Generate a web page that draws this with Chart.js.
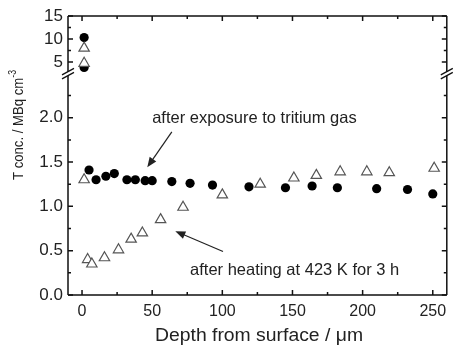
<!DOCTYPE html>
<html>
<head>
<meta charset="utf-8">
<script src="https://cdn.jsdelivr.net/npm/chart.js@4.4.1/dist/chart.umd.min.js"></script>
<style>
	html, body { margin: 0; padding: 0; background: #fff; }
	#wrap { width: 454px; height: 347px; }
</style>
</head>
<body>
<div id="wrap"><canvas id="chart"></canvas></div>
<script>
// values (depth in µm, concentration in MBq cm-3)
const circleDepth = [1.5, 1.5, 5, 10, 17, 23, 32, 38, 45, 50, 64, 77, 93, 119, 145, 164, 182, 210, 232, 250];
const circleConc = [10.3, 3.8, 1.41, 1.30, 1.34, 1.37, 1.30, 1.30, 1.29, 1.29, 1.28, 1.26, 1.24, 1.22, 1.21, 1.23, 1.21, 1.20, 1.19, 1.14];
const triangleDepth = [1.5, 1.5, 1.5, 4, 7, 16, 26, 35, 43, 56, 72, 100, 127, 151, 167, 184, 203, 219, 251];
const triangleConc = [8.0, 4.7, 1.30, 0.40, 0.35, 0.42, 0.51, 0.63, 0.70, 0.85, 0.99, 1.13, 1.25, 1.32, 1.35, 1.39, 1.39, 1.38, 1.43];

const depthTicks = [0, 50, 100, 150, 200, 250];
const lowTicks = [0, 0.5, 1.0, 1.5, 2.0];
const highTicks = [5, 10, 15];
const breakAt = 2.5;

const xTitle = 'Depth from surface / μm';
const yTitle = 'T conc. / MBq cm';
const yTitleSup = '-3';

const notes = [
	{ text: 'after exposure to tritium gas', at: [50, 1.99], from: [64, 1.84], to: [46.5, 1.44] },
	{ text: 'after heating at 423 K for 3 h', at: [77, 0.28], from: [100.5, 0.49], to: [66.5, 0.72] },
];

const split = (xs, ys, high) => xs
	.map((x, i) => ({ x, y: ys[i] }))
	.filter((p) => (high ? p.y > breakAt : p.y <= breakAt));

const FONT = '"Liberation Sans", Arial, sans-serif';
const INK = '#222';

const minorsOf = (majors, min, max) => {
	const step = majors[1] - majors[0];
	const out = [];
	for (let i = 0; i < majors.length - 1; i++) {
		out.push((majors[i] + majors[i + 1]) / 2);
	}
	const last = majors[majors.length - 1] + step / 2;
	if (last < max) out.push(last);
	const first = majors[0] - step / 2;
	if (first > min) out.unshift(first);
	return out;
};

// draws text squeezed or stretched along its run to a given length
const fitText = (ctx, text, x, y, len) => {
	const w = ctx.measureText(text).width;
	ctx.save();
	ctx.translate(x, y);
	ctx.scale(len / w, 1);
	ctx.fillText(text, 0, 0);
	ctx.restore();
};

const framePlugin = {
	id: 'frame',
	afterDatasetsDraw(chart) {
		const { ctx, chartArea: a, scales } = chart;
		const x = scales.x;
		const yLow = scales.y;
		const yHigh = scales.yTop;
		const yb = yLow.top;

		ctx.save();
		ctx.strokeStyle = '#111';
		ctx.lineWidth = 1.5;
		ctx.beginPath();
		ctx.moveTo(a.left, a.top);
		ctx.lineTo(a.right, a.top);
		ctx.moveTo(a.left, a.bottom);
		ctx.lineTo(a.right, a.bottom);
		ctx.moveTo(a.left, a.top);
		ctx.lineTo(a.left, a.bottom);
		ctx.moveTo(a.right, a.top);
		ctx.lineTo(a.right, a.bottom);
		ctx.stroke();

		// inward ticks
		const tick = (x1, y1, x2, y2) => {
			ctx.moveTo(x1, y1);
			ctx.lineTo(x2, y2);
		};
		ctx.beginPath();
		depthTicks.forEach((v) => {
			const px = x.getPixelForValue(v);
			tick(px, a.bottom, px, a.bottom - 5);
			tick(px, a.top, px, a.top + 5);
		});
		minorsOf(depthTicks, x.min, x.max).forEach((v) => {
			const px = x.getPixelForValue(v);
			tick(px, a.bottom, px, a.bottom - 3);
			tick(px, a.top, px, a.top + 3);
		});
		[[yLow, lowTicks], [yHigh, highTicks]].forEach(([s, majors]) => {
			majors.forEach((v) => {
				const py = s.getPixelForValue(v);
				tick(a.left, py, a.left + 5, py);
				tick(a.right, py, a.right - 5, py);
			});
			minorsOf(majors, s.min, s.max).forEach((v) => {
				const py = s.getPixelForValue(v);
				tick(a.left, py, a.left + 3, py);
				tick(a.right, py, a.right - 3, py);
			});
		});
		ctx.stroke();

		// axis break marks
		[a.left, a.right].forEach((bx) => {
			ctx.fillStyle = '#fff';
			ctx.beginPath();
			ctx.moveTo(bx - 6, yb + 1.5);
			ctx.lineTo(bx + 6, yb - 5);
			ctx.lineTo(bx + 6, yb - 1);
			ctx.lineTo(bx - 6, yb + 5.5);
			ctx.closePath();
			ctx.fill();
			ctx.lineWidth = 1.3;
			ctx.beginPath();
			ctx.moveTo(bx - 6, yb + 1.5);
			ctx.lineTo(bx + 6, yb - 5);
			ctx.moveTo(bx - 6, yb + 5.5);
			ctx.lineTo(bx + 6, yb - 1);
			ctx.stroke();
		});

		// annotations
		ctx.fillStyle = INK;
		ctx.strokeStyle = INK;
		ctx.font = `16.5px ${FONT}`;
		ctx.textBaseline = 'middle';
		ctx.textAlign = 'left';
		notes.forEach((n) => {
			ctx.fillText(n.text, x.getPixelForValue(n.at[0]), yLow.getPixelForValue(n.at[1]));
			const x1 = x.getPixelForValue(n.from[0]);
			const y1 = yLow.getPixelForValue(n.from[1]);
			const x2 = x.getPixelForValue(n.to[0]);
			const y2 = yLow.getPixelForValue(n.to[1]);
			const ang = Math.atan2(y2 - y1, x2 - x1);
			ctx.lineWidth = 1.2;
			ctx.beginPath();
			ctx.moveTo(x1, y1);
			ctx.lineTo(x2 - Math.cos(ang) * 6, y2 - Math.sin(ang) * 6);
			ctx.stroke();
			ctx.beginPath();
			ctx.moveTo(x2, y2);
			ctx.lineTo(x2 - Math.cos(ang) * 10 + Math.sin(ang) * 4, y2 - Math.sin(ang) * 10 - Math.cos(ang) * 4);
			ctx.lineTo(x2 - Math.cos(ang) * 10 - Math.sin(ang) * 4, y2 - Math.sin(ang) * 10 + Math.cos(ang) * 4);
			ctx.closePath();
			ctx.fill();
		});

		// axis titles
		ctx.textAlign = 'left';
		ctx.font = `17.5px ${FONT}`;
		fitText(ctx, xTitle, 155, 336, 208);

		ctx.save();
		ctx.translate(19, 180);
		ctx.rotate(-Math.PI / 2);
		ctx.font = `15px ${FONT}`;
		const w = ctx.measureText(yTitle).width;
		ctx.font = `10px ${FONT}`;
		const ws = ctx.measureText(yTitleSup).width;
		const k = 110 / (w + ws);
		ctx.scale(k, 1);
		ctx.font = `15px ${FONT}`;
		ctx.fillText(yTitle, 0, 0);
		ctx.font = `10px ${FONT}`;
		ctx.fillText(yTitleSup, w, -6);
		ctx.restore();

		ctx.restore();
	},
};

new Chart(document.getElementById('chart'), {
	type: 'scatter',
	data: {
		datasets: [
			{
				data: split(triangleDepth, triangleConc, false),
				yAxisID: 'y',
				pointStyle: 'triangle',
				pointRadius: 6,
				backgroundColor: '#fff',
				borderColor: '#555',
				borderWidth: 1.2,
			},
			{
				data: split(triangleDepth, triangleConc, true),
				yAxisID: 'yTop',
				pointStyle: 'triangle',
				pointRadius: 6,
				backgroundColor: '#fff',
				borderColor: '#555',
				borderWidth: 1.2,
			},
			{
				data: split(circleDepth, circleConc, false),
				yAxisID: 'y',
				pointRadius: 4.6,
				backgroundColor: '#000',
				borderColor: '#000',
				borderWidth: 0,
			},
			{
				data: split(circleDepth, circleConc, true),
				yAxisID: 'yTop',
				pointRadius: 4.6,
				backgroundColor: '#000',
				borderColor: '#000',
				borderWidth: 0,
			},
		],
	},
	options: {
		responsive: true,
		maintainAspectRatio: false,
		animation: false,
		layout: { padding: { top: 16, right: 4, left: 0, bottom: 0 } },
		plugins: {
			legend: { display: false },
			tooltip: { enabled: false },
		},
		scales: {
			x: {
				type: 'linear',
				min: -10,
				max: 260,
				grid: { display: false, drawTicks: false },
				border: { display: false },
				afterBuildTicks: (s) => { s.ticks = depthTicks.map((value) => ({ value })); },
				afterFit: (s) => { s.height = 52; },
				ticks: { font: { family: FONT, size: 16 }, color: INK, padding: 7, maxRotation: 0, autoSkip: false },
			},
			y: {
				type: 'linear',
				position: 'left',
				stack: 'conc',
				stackWeight: 220,
				min: 0,
				max: breakAt,
				grid: { display: false, drawTicks: false },
				border: { display: false },
				afterBuildTicks: (s) => { s.ticks = lowTicks.map((value) => ({ value })); },
				afterFit: (s) => { s.width = 68; },
				ticks: { font: { family: FONT, size: 17 }, color: INK, padding: 5, autoSkip: false, callback: (v) => v.toFixed(1) },
			},
			yTop: {
				type: 'linear',
				position: 'left',
				stack: 'conc',
				stackWeight: 57,
				min: breakAt,
				max: 15,
				grid: { display: false, drawTicks: false },
				border: { display: false },
				afterBuildTicks: (s) => { s.ticks = highTicks.map((value) => ({ value })); },
				afterFit: (s) => { s.width = 68; },
				ticks: { font: { family: FONT, size: 17 }, color: INK, padding: 5, autoSkip: false, callback: (v) => String(v) },
			},
		},
	},
	plugins: [framePlugin],
});
</script>
</body>
</html>
